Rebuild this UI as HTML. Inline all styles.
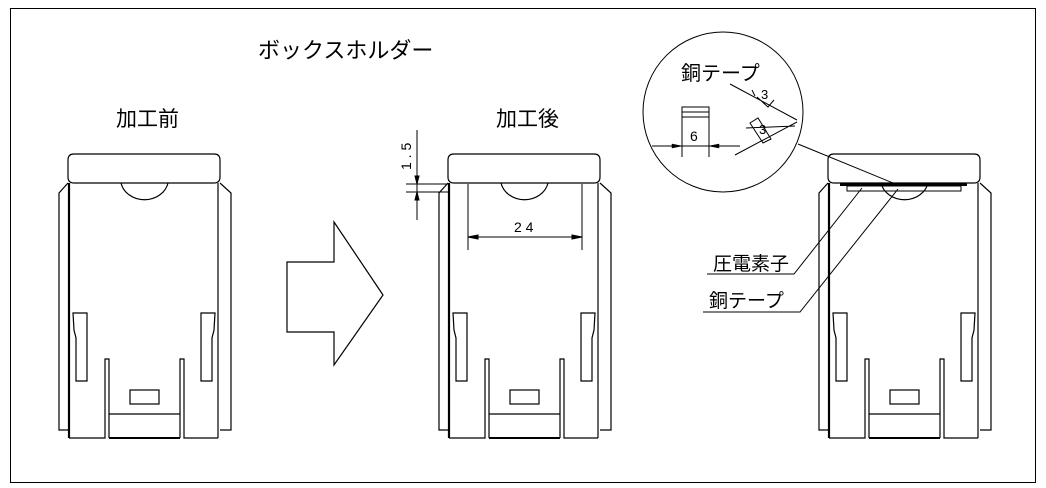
<!DOCTYPE html>
<html><head><meta charset="utf-8"><style>
html,body{margin:0;padding:0;background:#fff}
svg{display:block}
text{font-family:"Liberation Sans","Noto Sans CJK JP",sans-serif;fill:#000}
</style></head><body>
<svg width="1046" height="488" viewBox="0 0 1046 488" xmlns="http://www.w3.org/2000/svg">
<defs>
<g id="h" fill="none" stroke="#000" stroke-width="1.2">
  <path d="M68,160 Q68,154 74,154 L214,154 Q220,154 220,160 L220,177 Q220,183 214,183 L74,183 Q68,183 68,177 Z"/>
  <line x1="69" y1="183" x2="69" y2="438" stroke-width="2.2"/>
  <line x1="218" y1="183" x2="218" y2="438"/>
  <path d="M68,183 L59,193 L59,430 L68,430"/>
  <path d="M220,183 L231,193 L231,430 L220,430"/>
  <path d="M121,183 A24,21 0 0 0 168,183"/>
  <path d="M73,313 L87,313 L87,381 L76,381 L76,338 L74,330 Z"/>
  <path d="M215,313 L201,313 L201,381 L212,381 L212,338 L214,330 Z"/>
  <path d="M69,438 L105,438 L105,359 L109,359 L109,438"/>
  <path d="M218,438 L184,438 L184,359 L180,359 L180,438"/>
  <line x1="109" y1="414" x2="180" y2="414"/>
  <line x1="109" y1="438" x2="180" y2="438" stroke-width="2"/>
  <rect x="130" y="390" width="29" height="14"/>
</g>
</defs>
<rect x="10.5" y="8.5" width="1025" height="474" fill="none" stroke="#000"/>
<text x="258" y="58" font-size="22">ボックスホルダー</text>
<text x="116" y="126" font-size="21">加工前</text>
<text x="496" y="126" font-size="21">加工後</text>
<use href="#h"/>
<use href="#h" x="380"/>
<use href="#h" x="760"/>
<polygon points="287,262 334,262 334,222 383,295 334,365 334,332 287,332" fill="none" stroke="#000" stroke-width="1.2"/>
<!-- middle dims -->
<g stroke="#000" stroke-width="1" fill="none">
  <line x1="468" y1="184" x2="468" y2="250"/>
  <line x1="582" y1="184" x2="582" y2="250"/>
  <line x1="468" y1="237" x2="582" y2="237"/>
  <path d="M468,237 l10,-2 v4 z M582,237 l-10,-2 v4 z" fill="#000"/>
  <line x1="406" y1="184" x2="448" y2="184"/>
  <line x1="406" y1="192" x2="448" y2="192"/>
  <line x1="417" y1="130" x2="417" y2="220"/>
  <path d="M417,184 l-2,-8 h4 z M417,192 l-2,8 h4 z" fill="#000"/>
</g>
<text x="514" y="232" font-size="14">2 4</text>
<text x="0" y="0" font-size="14" transform="translate(411,170) rotate(-90)">1 . 5</text>
<!-- right holder details -->
<g stroke="#000" fill="none">
  <line x1="840" y1="184.5" x2="967" y2="184.5" stroke-width="3"/>
  <rect x="847" y="186" width="114" height="5" stroke-width="1"/>
  <polyline points="862,188 794,274 707,274" stroke-width="1"/>
  <polyline points="898,189 800,312 703,312" stroke-width="1"/>
  <line x1="798" y1="144" x2="893" y2="183" stroke-width="1"/>
  <circle cx="723" cy="112" r="80" stroke-width="1"/>
  <rect x="682" y="107" width="27" height="10" stroke-width="1"/>
  <line x1="682" y1="112" x2="709" y2="112" stroke-width="1"/>
  <line x1="682" y1="117" x2="682" y2="157" stroke-width="1"/>
  <line x1="709" y1="117" x2="709" y2="157" stroke-width="1"/>
  <line x1="652" y1="146" x2="740" y2="146" stroke-width="1"/>
  <path d="M682,146 l-10,-2 v4 z M709,146 l10,-2 v4 z" fill="#000" stroke-width="0.5"/>
  <path d="M730,84 L797,120 M752,90 L755,96 M757,97 L768,107 L774,100 M746,128 L795,126 M735,155 L797,122 M750,123 L758,118 L771,139 L763,143 Z" stroke-width="1"/>
</g>
<text x="681" y="80" font-size="20">銅テープ</text>
<text x="690" y="141" font-size="14">6</text>
<text x="761" y="99" font-size="13">3</text>
<text x="759" y="134" font-size="13">3</text>
<text x="713" y="270" font-size="19">圧電素子</text>
<text x="709" y="307" font-size="19">銅テープ</text>
</svg>
</body></html>
